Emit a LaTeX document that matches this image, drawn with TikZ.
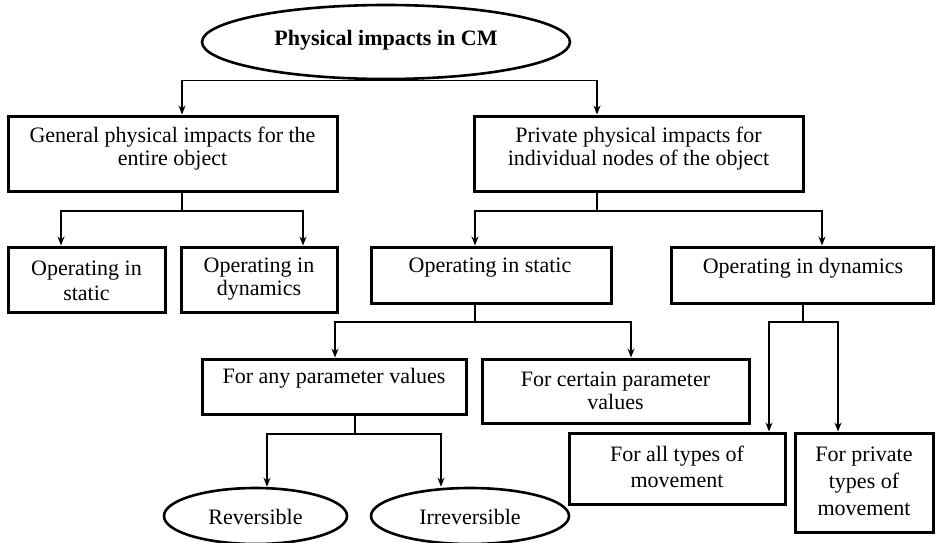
\documentclass[tikz,border=0pt]{standalone}
\usepackage{fontspec}
\setmainfont{Liberation Serif}
\usetikzlibrary{shapes.geometric,arrows.meta}
\begin{document}
\begin{tikzpicture}[x=1pt,y=-1pt,
  box/.style={draw,line width=3pt,inner sep=0pt,rectangle},
  oval/.style={draw,line width=2.6pt,inner sep=0pt,ellipse},
  lbl/.style={align=center,inner sep=0pt,font=\fontsize{22}{23}\selectfont},
  conn/.style={line width=1.3pt},
  arr/.style={conn,-{Stealth[length=9pt,width=7pt]}}]
\useasboundingbox (0,0) rectangle (935,543);
% nodes
\node[oval,minimum width=368,minimum height=74] (top) at (386,42) {};
\node[lbl,font=\fontsize{22}{23}\selectfont\bfseries] (ttop) at (386,40) {Physical impacts in CM};

\node[box,minimum width=329,minimum height=75] (b1) at (172.5,153.5) {};
\node[lbl] (tb1) at (172.5,149) {General physical impacts for the\\entire object};
\node[box,minimum width=329,minimum height=75] (b2) at (638.5,153.5) {};
\node[lbl] (tb2) at (638.5,149) {Private physical impacts for\\individual nodes of the object};

\node[box,minimum width=157,minimum height=65] (b11) at (86.5,279.5) {};
\node[lbl,font=\fontsize{22}{25}\selectfont] (tb11) at (86.5,281) {Operating in\\static};
\node[box,minimum width=156,minimum height=65] (b12) at (259,279.5) {};
\node[lbl] (tb12) at (259,279) {Operating in\\dynamics};

\node[box,minimum width=240,minimum height=56] (b21) at (491,275) {};
\node[lbl] (tb21) at (490,268) {Operating in static};
\node[box,minimum width=262,minimum height=56] (b22) at (802,275) {};
\node[lbl] (tb22) at (803,268) {Operating in dynamics};

\node[box,minimum width=264,minimum height=55] (b211) at (334,386.5) {};
\node[lbl] (tb211) at (334,378) {For any parameter values};
\node[box,minimum width=267,minimum height=64] (b212) at (615.5,391) {};
\node[lbl] (tb212) at (615.5,391) {For certain parameter\\values};

\node[box,minimum width=216,minimum height=71] (b221) at (677,468.5) {};
\node[lbl,font=\fontsize{22}{26}\selectfont] (tb221) at (677,467) {For all types of\\movement};
\node[box,minimum width=138,minimum height=99] (b222) at (864,482.5) {};
\node[lbl,font=\fontsize{22}{27}\selectfont] (tb222) at (864,481) {For private\\types of\\movement};

\node[oval,minimum width=183,minimum height=56] (e1) at (255.5,516) {};
\node[lbl] (te1) at (255.5,517) {Reversible};
\node[oval,minimum width=198,minimum height=56] (e2) at (470,516) {};
\node[lbl] (te2) at (470,517) {Irreversible};

% connectors
\draw[arr] (top.south) -| ([xshift=9.5pt]b1.north);
\draw[arr] (top.south) -| ([xshift=-41.5pt]b2.north);

\coordinate (j1) at (182,211);
\draw[conn] ([xshift=9.5pt]b1.south) -- (j1);
\draw[arr] (j1) -| ([xshift=-25.5pt]b11.north);
\draw[arr] (j1) -| ([xshift=44pt]b12.north);

\coordinate (j2) at (597,211);
\draw[conn] ([xshift=-41.5pt]b2.south) -- (j2);
\draw[arr] (j2) -| ([xshift=-16pt]b21.north);
\draw[arr] (j2) -| ([xshift=20pt]b22.north);

\coordinate (j3) at (475,322);
\draw[conn] ([xshift=-16pt]b21.south) -- (j3);
\draw[arr] (j3) -| ([xshift=1pt]b211.north);
\draw[arr] (j3) -| ([xshift=15.5pt]b212.north);

\coordinate (j4) at (803,322);
\draw[conn] ([xshift=1pt]b22.south) -- (j4);
\draw[arr] (j4) -| ([xshift=92pt]b221.north);
\draw[arr] (j4) -| ([xshift=-26pt]b222.north);

\coordinate (j5) at (355,434);
\draw[conn] ([xshift=21pt]b211.south) -- (j5);
\draw[arr] (j5) -| ([xshift=11.5pt]e1.north);
\draw[arr] (j5) -| ([xshift=-29pt]e2.north);
\end{tikzpicture}
\end{document}
